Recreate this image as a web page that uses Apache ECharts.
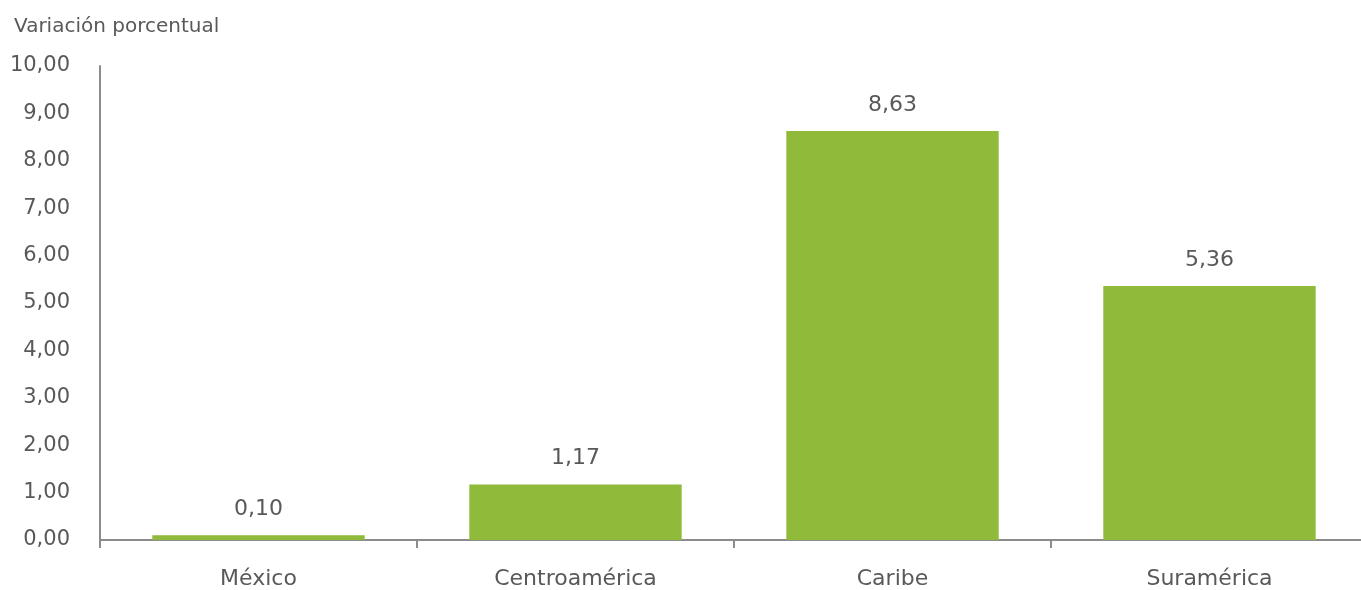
<!DOCTYPE html>
<html><head><meta charset="utf-8">
<script src="https://cdn.jsdelivr.net/npm/echarts@6/dist/echarts.min.js"></script>
<style>html,body{margin:0;padding:0;background:#fff;overflow:hidden}#c{width:1368px;height:590px}</style>
</head><body><div id="c"></div>
<script>
var categories = ['México', 'Centroamérica', 'Caribe', 'Suramérica'];
var values = [0.10, 1.17, 8.63, 5.36];
var yTitle = 'Variación porcentual';
var fmt = function (v) { return v.toFixed(2).replace('.', ','); };
var font = 'DejaVu Sans';
var chart = echarts.init(document.getElementById('c'));
chart.setOption({
  animation: false,
  textStyle: { fontFamily: font },
  title: { text: yTitle, left: 9, top: 12, textStyle: { fontFamily: font, fontSize: 20, fontWeight: 'normal', color: '#595959' } },
  grid: { left: 100, top: 66, bottom: 50, right: 0 },
  xAxis: {
    type: 'category', data: categories,
    axisLine: { lineStyle: { color: '#8c8c8c', width: 2 } },
    axisTick: { show: true, length: 8, lineStyle: { color: '#8c8c8c', width: 2 } },
    axisLabel: { fontSize: 22, color: '#595959', margin: 28, fontFamily: font }
  },
  yAxis: {
    type: 'value', min: 0, max: 10, interval: 1,
    axisLine: { show: true, lineStyle: { color: '#8c8c8c', width: 2 } },
    axisTick: { show: false },
    splitLine: { show: false },
    axisLabel: { fontSize: 21, color: '#595959', margin: 30, align: 'right', fontFamily: font, formatter: fmt, padding: [0, 0, 2, 0] }
  },
  series: [{
    type: 'bar', data: values, barCategoryGap: '33%',
    itemStyle: { color: '#8fba3a' },
    label: { show: true, position: 'top', distance: 15, fontSize: 22, color: '#595959', fontFamily: font, formatter: function (p) { return fmt(p.value); } }
  }]
});
</script></body></html>
